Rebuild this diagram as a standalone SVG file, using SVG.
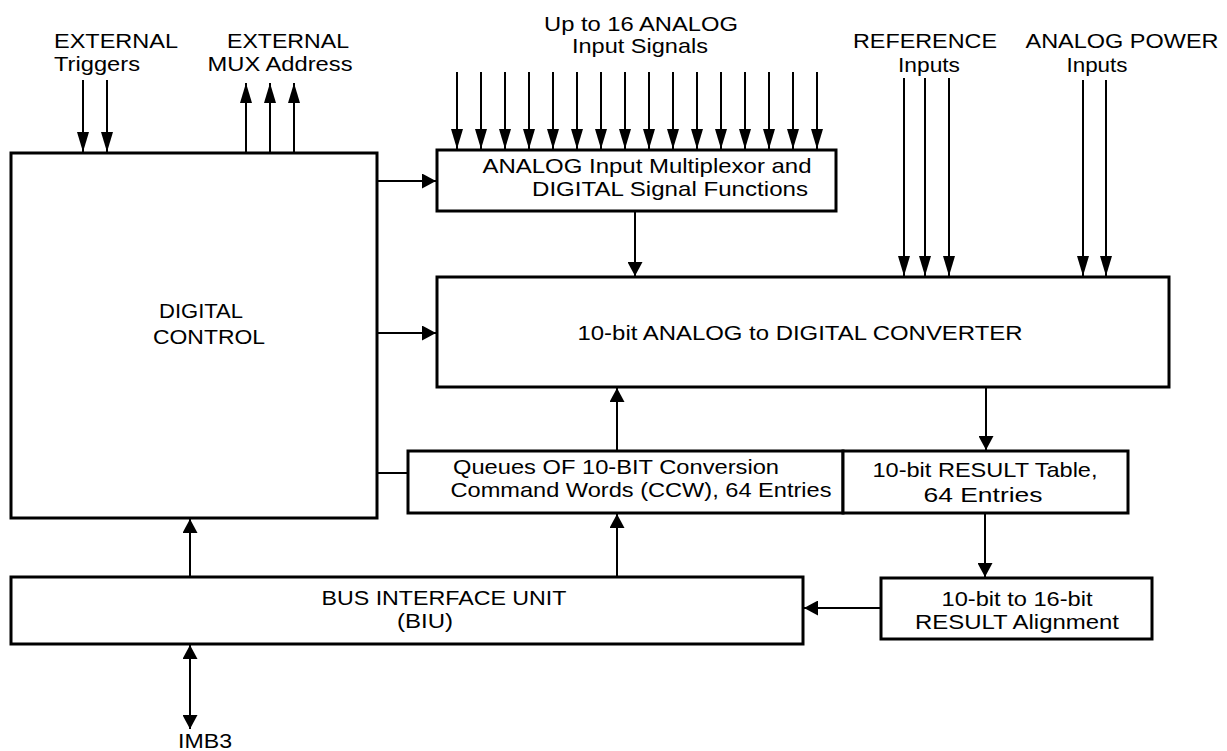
<svg xmlns="http://www.w3.org/2000/svg" width="1227" height="751" viewBox="0 0 1227 751">
<style>
.box{fill:#fff;stroke:#000;stroke-width:3}
.ln{fill:none;stroke:#000;stroke-width:2}
.ext{marker-end:url(#aExt)}
.int{marker-end:url(#aInt)}
text{font-family:"Liberation Sans",Arial,Helvetica,sans-serif;font-size:21px;fill:#000;text-anchor:middle}
</style>
<defs>
<marker id="aExt" markerUnits="userSpaceOnUse" markerWidth="20" markerHeight="12" refX="20" refY="6" orient="auto" viewBox="0 0 20 12"><path d="M0,0 L20,6 L0,12 z" fill="#000"/></marker>
<marker id="aInt" markerUnits="userSpaceOnUse" markerWidth="14" markerHeight="15" refX="14" refY="7.5" orient="auto-start-reverse" viewBox="0 0 14 15"><path d="M0,0 L14,7.5 L0,15 z" fill="#000"/></marker>
</defs>
<rect width="1227" height="751" fill="#fff"/>

<g id="connectors">
<line class="ln ext" x1="83" y1="80" x2="83" y2="152"/>
<line class="ln ext" x1="107" y1="80" x2="107" y2="152"/>
<line class="ln ext" x1="246" y1="153" x2="246" y2="83"/>
<line class="ln ext" x1="270" y1="153" x2="270" y2="83"/>
<line class="ln ext" x1="294" y1="153" x2="294" y2="83"/>
<line class="ln ext" x1="457" y1="72" x2="457" y2="149"/>
<line class="ln ext" x1="481" y1="72" x2="481" y2="149"/>
<line class="ln ext" x1="505" y1="72" x2="505" y2="149"/>
<line class="ln ext" x1="529" y1="72" x2="529" y2="149"/>
<line class="ln ext" x1="553" y1="72" x2="553" y2="149"/>
<line class="ln ext" x1="577" y1="72" x2="577" y2="149"/>
<line class="ln ext" x1="601" y1="72" x2="601" y2="149"/>
<line class="ln ext" x1="625" y1="72" x2="625" y2="149"/>
<line class="ln ext" x1="649" y1="72" x2="649" y2="149"/>
<line class="ln ext" x1="673" y1="72" x2="673" y2="149"/>
<line class="ln ext" x1="697" y1="72" x2="697" y2="149"/>
<line class="ln ext" x1="721" y1="72" x2="721" y2="149"/>
<line class="ln ext" x1="745" y1="72" x2="745" y2="149"/>
<line class="ln ext" x1="769" y1="72" x2="769" y2="149"/>
<line class="ln ext" x1="793" y1="72" x2="793" y2="149"/>
<line class="ln ext" x1="817" y1="72" x2="817" y2="149"/>
<line class="ln ext" x1="904" y1="78" x2="904" y2="276"/>
<line class="ln ext" x1="925" y1="78" x2="925" y2="276"/>
<line class="ln ext" x1="949" y1="78" x2="949" y2="276"/>
<line class="ln ext" x1="1083" y1="80" x2="1083" y2="276"/>
<line class="ln ext" x1="1106" y1="80" x2="1106" y2="276"/>
<line class="ln int" x1="377" y1="181" x2="436" y2="181"/>
<line class="ln int" x1="377" y1="333" x2="436" y2="333"/>
<line class="ln int" x1="635" y1="211" x2="635" y2="276"/>
<line class="ln int" x1="617" y1="451" x2="617" y2="388"/>
<line class="ln int" x1="986" y1="388" x2="986" y2="450"/>
<line class="ln" x1="377" y1="473" x2="408" y2="473"/>
<line class="ln int" x1="617" y1="577" x2="617" y2="514"/>
<line class="ln int" x1="985" y1="513" x2="985" y2="577"/>
<line class="ln int" x1="881" y1="608" x2="804" y2="608"/>
<line class="ln int" x1="190" y1="577" x2="190" y2="519"/>
<line class="ln int" x1="190" y1="645" x2="190" y2="729" style="marker-start:url(#aInt)"/>
</g>

<g id="labels">
<text x="116" y="48" textLength="124" lengthAdjust="spacingAndGlyphs">EXTERNAL</text>
<text x="97" y="71" textLength="86" lengthAdjust="spacingAndGlyphs">Triggers</text>
<text x="288" y="48" textLength="122" lengthAdjust="spacingAndGlyphs">EXTERNAL</text>
<text x="280" y="71" textLength="145" lengthAdjust="spacingAndGlyphs">MUX Address</text>
<text x="641" y="31" textLength="194" lengthAdjust="spacingAndGlyphs">Up to 16 ANALOG</text>
<text x="640" y="53" textLength="136" lengthAdjust="spacingAndGlyphs">Input Signals</text>
<text x="925" y="48" textLength="144" lengthAdjust="spacingAndGlyphs">REFERENCE</text>
<text x="929" y="72" textLength="62" lengthAdjust="spacingAndGlyphs">Inputs</text>
<text x="1122" y="48" textLength="193" lengthAdjust="spacingAndGlyphs">ANALOG POWER</text>
<text x="1097" y="72" textLength="61" lengthAdjust="spacingAndGlyphs">Inputs</text>
<text x="205" y="748" textLength="54" lengthAdjust="spacingAndGlyphs">IMB3</text>
</g>

<g id="digital-control">
<rect class="box" x="11" y="153" width="366" height="365"/>
<text x="201" y="318" textLength="84" lengthAdjust="spacingAndGlyphs">DIGITAL</text>
<text x="209" y="344" textLength="112" lengthAdjust="spacingAndGlyphs">CONTROL</text>
</g>

<g id="analog-mux">
<rect class="box" x="437" y="150" width="399" height="61"/>
<text x="647" y="173" textLength="329" lengthAdjust="spacingAndGlyphs">ANALOG Input Multiplexor and</text>
<text x="670" y="196" textLength="276" lengthAdjust="spacingAndGlyphs">DIGITAL Signal Functions</text>
</g>

<g id="adc">
<rect class="box" x="437" y="277" width="732" height="110"/>
<text x="800" y="340" textLength="445" lengthAdjust="spacingAndGlyphs">10-bit ANALOG to DIGITAL CONVERTER</text>
</g>

<g id="ccw-queues">
<rect class="box" x="408" y="451" width="435" height="62"/>
<text x="616" y="474" textLength="326" lengthAdjust="spacingAndGlyphs">Queues OF 10-BIT Conversion</text>
<text x="641" y="497" textLength="381" lengthAdjust="spacingAndGlyphs">Command Words (CCW), 64 Entries</text>
</g>

<g id="result-table">
<rect class="box" x="843" y="451" width="285" height="62"/>
<text x="985" y="477" textLength="225" lengthAdjust="spacingAndGlyphs">10-bit RESULT Table,</text>
<text x="983" y="502" textLength="119" lengthAdjust="spacingAndGlyphs">64 Entries</text>
</g>

<g id="biu">
<rect class="box" x="11" y="577" width="792" height="67"/>
<text x="444" y="605" textLength="245" lengthAdjust="spacingAndGlyphs">BUS INTERFACE UNIT</text>
<text x="425" y="628" textLength="56" lengthAdjust="spacingAndGlyphs">(BIU)</text>
</g>

<g id="alignment">
<rect class="box" x="881" y="578" width="271" height="61"/>
<text x="1017" y="606" textLength="151" lengthAdjust="spacingAndGlyphs">10-bit to 16-bit</text>
<text x="1017" y="629" textLength="204" lengthAdjust="spacingAndGlyphs">RESULT Alignment</text>
</g>
</svg>
